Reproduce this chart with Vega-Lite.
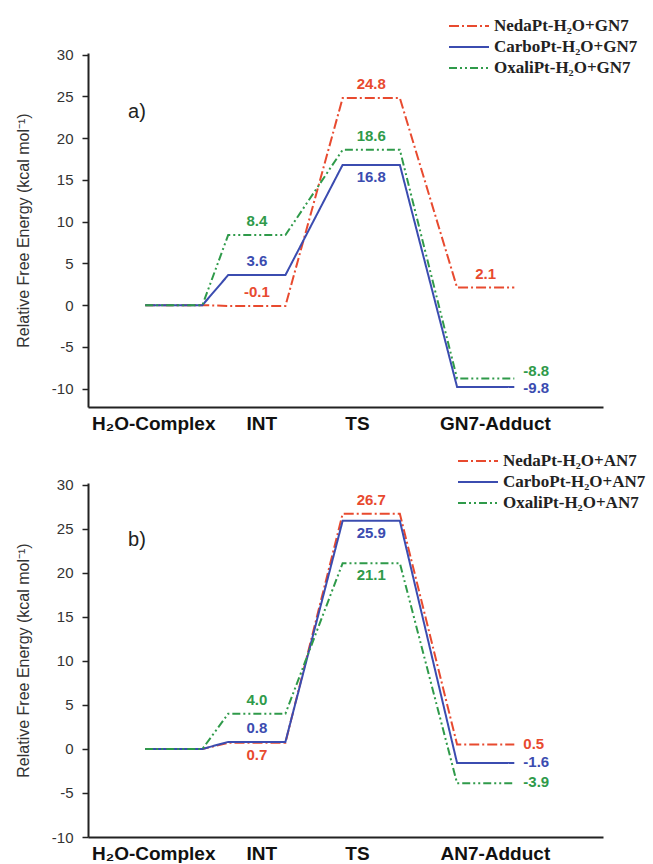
{
  "$schema": "https://vega.github.io/schema/vega-lite/v6.json",
  "background": "white",
  "padding": {"left": 15, "top": 15, "right": 0, "bottom": 0},
  "spacing": 17,
  "config": {
    "view": {"stroke": null},
    "font": "Liberation Sans",
    "axis": {"grid": false, "domainColor": "#222", "domainWidth": 2, "tickColor": "#222", "tickWidth": 1.5, "labelColor": "#333", "titleColor": "#333"},
    "legend": {"orient": "none", "title": null, "symbolType": "M-2,0L2,0", "symbolSize": 400, "symbolStrokeWidth": 2, "labelFont": "Liberation Serif", "labelFontWeight": "bold", "labelFontSize": 17, "labelColor": "#222", "labelOffset": 14, "rowPadding": 2, "padding": 0, "labelLimit": 300}
  },
  "resolve": {"scale": {"color": "independent", "strokeDash": "independent", "fill": "independent"}},
  "datasets": {
    "lines": [
      {"panel": "a", "series": "NedaPt-H₂O+GN7", "x": 1, "y": 0},
      {"panel": "a", "series": "NedaPt-H₂O+GN7", "x": 2, "y": 0},
      {"panel": "a", "series": "NedaPt-H₂O+GN7", "x": 2.45, "y": -0.1},
      {"panel": "a", "series": "NedaPt-H₂O+GN7", "x": 3.45, "y": -0.1},
      {"panel": "a", "series": "NedaPt-H₂O+GN7", "x": 4.45, "y": 24.8},
      {"panel": "a", "series": "NedaPt-H₂O+GN7", "x": 5.45, "y": 24.8},
      {"panel": "a", "series": "NedaPt-H₂O+GN7", "x": 6.45, "y": 2.1},
      {"panel": "a", "series": "NedaPt-H₂O+GN7", "x": 7.45, "y": 2.1},
      {"panel": "a", "series": "CarboPt-H₂O+GN7", "x": 1, "y": 0},
      {"panel": "a", "series": "CarboPt-H₂O+GN7", "x": 2, "y": 0},
      {"panel": "a", "series": "CarboPt-H₂O+GN7", "x": 2.45, "y": 3.6},
      {"panel": "a", "series": "CarboPt-H₂O+GN7", "x": 3.45, "y": 3.6},
      {"panel": "a", "series": "CarboPt-H₂O+GN7", "x": 4.45, "y": 16.8},
      {"panel": "a", "series": "CarboPt-H₂O+GN7", "x": 5.45, "y": 16.8},
      {"panel": "a", "series": "CarboPt-H₂O+GN7", "x": 6.45, "y": -9.8},
      {"panel": "a", "series": "CarboPt-H₂O+GN7", "x": 7.45, "y": -9.8},
      {"panel": "a", "series": "OxaliPt-H₂O+GN7", "x": 1, "y": 0},
      {"panel": "a", "series": "OxaliPt-H₂O+GN7", "x": 2, "y": 0},
      {"panel": "a", "series": "OxaliPt-H₂O+GN7", "x": 2.45, "y": 8.4},
      {"panel": "a", "series": "OxaliPt-H₂O+GN7", "x": 3.45, "y": 8.4},
      {"panel": "a", "series": "OxaliPt-H₂O+GN7", "x": 4.45, "y": 18.6},
      {"panel": "a", "series": "OxaliPt-H₂O+GN7", "x": 5.45, "y": 18.6},
      {"panel": "a", "series": "OxaliPt-H₂O+GN7", "x": 6.45, "y": -8.8},
      {"panel": "a", "series": "OxaliPt-H₂O+GN7", "x": 7.45, "y": -8.8},
      {"panel": "b", "series": "NedaPt-H₂O+AN7", "x": 1, "y": 0},
      {"panel": "b", "series": "NedaPt-H₂O+AN7", "x": 2, "y": 0},
      {"panel": "b", "series": "NedaPt-H₂O+AN7", "x": 2.45, "y": 0.7},
      {"panel": "b", "series": "NedaPt-H₂O+AN7", "x": 3.45, "y": 0.7},
      {"panel": "b", "series": "NedaPt-H₂O+AN7", "x": 4.45, "y": 26.7},
      {"panel": "b", "series": "NedaPt-H₂O+AN7", "x": 5.45, "y": 26.7},
      {"panel": "b", "series": "NedaPt-H₂O+AN7", "x": 6.45, "y": 0.5},
      {"panel": "b", "series": "NedaPt-H₂O+AN7", "x": 7.45, "y": 0.5},
      {"panel": "b", "series": "CarboPt-H₂O+AN7", "x": 1, "y": 0},
      {"panel": "b", "series": "CarboPt-H₂O+AN7", "x": 2, "y": 0},
      {"panel": "b", "series": "CarboPt-H₂O+AN7", "x": 2.45, "y": 0.8},
      {"panel": "b", "series": "CarboPt-H₂O+AN7", "x": 3.45, "y": 0.8},
      {"panel": "b", "series": "CarboPt-H₂O+AN7", "x": 4.45, "y": 25.9},
      {"panel": "b", "series": "CarboPt-H₂O+AN7", "x": 5.45, "y": 25.9},
      {"panel": "b", "series": "CarboPt-H₂O+AN7", "x": 6.45, "y": -1.6},
      {"panel": "b", "series": "CarboPt-H₂O+AN7", "x": 7.45, "y": -1.6},
      {"panel": "b", "series": "OxaliPt-H₂O+AN7", "x": 1, "y": 0},
      {"panel": "b", "series": "OxaliPt-H₂O+AN7", "x": 2, "y": 0},
      {"panel": "b", "series": "OxaliPt-H₂O+AN7", "x": 2.45, "y": 4.0},
      {"panel": "b", "series": "OxaliPt-H₂O+AN7", "x": 3.45, "y": 4.0},
      {"panel": "b", "series": "OxaliPt-H₂O+AN7", "x": 4.45, "y": 21.1},
      {"panel": "b", "series": "OxaliPt-H₂O+AN7", "x": 5.45, "y": 21.1},
      {"panel": "b", "series": "OxaliPt-H₂O+AN7", "x": 6.45, "y": -3.9},
      {"panel": "b", "series": "OxaliPt-H₂O+AN7", "x": 7.45, "y": -3.9}
    ],
    "labels": [
      {"panel": "a", "series": "OxaliPt-H₂O+GN7", "x": 2.95, "y": 8.4, "text": "8.4", "pos": "above"},
      {"panel": "a", "series": "CarboPt-H₂O+GN7", "x": 2.95, "y": 3.6, "text": "3.6", "pos": "above"},
      {"panel": "a", "series": "NedaPt-H₂O+GN7", "x": 2.95, "y": -0.1, "text": "-0.1", "pos": "above"},
      {"panel": "a", "series": "NedaPt-H₂O+GN7", "x": 4.95, "y": 24.8, "text": "24.8", "pos": "above"},
      {"panel": "a", "series": "OxaliPt-H₂O+GN7", "x": 4.95, "y": 18.6, "text": "18.6", "pos": "above"},
      {"panel": "a", "series": "CarboPt-H₂O+GN7", "x": 4.95, "y": 16.8, "text": "16.8", "pos": "below"},
      {"panel": "a", "series": "NedaPt-H₂O+GN7", "x": 6.95, "y": 2.1, "text": "2.1", "pos": "above"},
      {"panel": "a", "series": "OxaliPt-H₂O+GN7", "x": 7.45, "y": -8.8, "text": "-8.8", "pos": "rightAbove"},
      {"panel": "a", "series": "CarboPt-H₂O+GN7", "x": 7.45, "y": -9.8, "text": "-9.8", "pos": "right"},
      {"panel": "b", "series": "OxaliPt-H₂O+AN7", "x": 2.95, "y": 4.0, "text": "4.0", "pos": "above"},
      {"panel": "b", "series": "CarboPt-H₂O+AN7", "x": 2.95, "y": 0.8, "text": "0.8", "pos": "above"},
      {"panel": "b", "series": "NedaPt-H₂O+AN7", "x": 2.95, "y": 0.7, "text": "0.7", "pos": "below"},
      {"panel": "b", "series": "NedaPt-H₂O+AN7", "x": 4.95, "y": 26.7, "text": "26.7", "pos": "above"},
      {"panel": "b", "series": "CarboPt-H₂O+AN7", "x": 4.95, "y": 25.9, "text": "25.9", "pos": "below"},
      {"panel": "b", "series": "OxaliPt-H₂O+AN7", "x": 4.95, "y": 21.1, "text": "21.1", "pos": "below"},
      {"panel": "b", "series": "NedaPt-H₂O+AN7", "x": 7.45, "y": 0.5, "text": "0.5", "pos": "right"},
      {"panel": "b", "series": "CarboPt-H₂O+AN7", "x": 7.45, "y": -1.6, "text": "-1.6", "pos": "right"},
      {"panel": "b", "series": "OxaliPt-H₂O+AN7", "x": 7.45, "y": -3.9, "text": "-3.9", "pos": "right"}
    ],
    "tags": [
      {"panel": "a", "x": 0.7, "y": 23.1, "text": "a)"},
      {"panel": "b", "x": 0.7, "y": 23.7, "text": "b)"}
    ]
  },
  "vconcat": [
    {
      "width": 515,
      "height": 354,
      "layer": [
        {
          "data": {"name": "lines"},
          "transform": [{"filter": "datum.panel === 'a'"}],
          "mark": {"type": "line", "strokeWidth": 2},
          "encoding": {
            "x": {"field": "x", "type": "quantitative", "scale": {"domain": [0, 9], "nice": false, "zero": false},
              "axis": {"title": null, "values": [1.14, 3.03, 4.7, 7.11], "ticks": false, "labelExpr": "datum.value < 2 ? 'H₂O-Complex' : datum.value < 4 ? 'INT' : datum.value < 6 ? 'TS' : 'GN7-Adduct'", "labelFontWeight": "bold", "labelFontSize": 19, "labelColor": "#111", "labelPadding": 7, "labelFlush": false, "labelOverlap": false}},
            "y": {"field": "y", "type": "quantitative", "scale": {"domain": [-12.2, 30.2], "nice": false, "zero": false},
              "axis": {"title": "Relative Free Energy (kcal mol⁻¹)", "titleFontSize": 16, "titleFontWeight": "normal", "titlePadding": 20,
                "values": [-10, -7.5, -5, -2.5, 0, 2.5, 5, 7.5, 10, 12.5, 15, 17.5, 20, 22.5, 25, 27.5, 30],
                "labelExpr": "datum.value % 5 === 0 ? toString(datum.value) : ''",
                "tickSize": {"condition": {"test": "datum.value % 5 === 0", "value": 6}, "value": 3},
                "labelFontSize": 15, "labelPadding": 9}},
            "color": {"field": "series", "type": "nominal", "scale": {"domain": ["NedaPt-H₂O+GN7", "CarboPt-H₂O+GN7", "OxaliPt-H₂O+GN7"], "range": ["#e84a2f", "#3b4cb0", "#2f9a4a"]},
              "legend": {"legendX": 370, "legendY": -38}},
            "strokeDash": {"field": "series", "type": "nominal", "scale": {"domain": ["NedaPt-H₂O+GN7", "CarboPt-H₂O+GN7", "OxaliPt-H₂O+GN7"], "range": [[10, 3, 2, 3], [1, 0], [8, 3, 2, 3, 2, 3]]},
              "legend": {"legendX": 370, "legendY": -38}}
          }
        },
        {
          "data": {"name": "labels"},
          "transform": [{"filter": "datum.panel === 'a' && datum.pos === 'above'"}],
          "mark": {"type": "text", "fontWeight": "bold", "fontSize": 15, "dy": -14, "align": "center", "baseline": "middle"},
          "encoding": {
            "x": {"field": "x", "type": "quantitative"},
            "y": {"field": "y", "type": "quantitative"},
            "text": {"field": "text"},
            "fill": {"field": "series", "type": "nominal", "scale": {"domain": ["NedaPt-H₂O+GN7", "CarboPt-H₂O+GN7", "OxaliPt-H₂O+GN7"], "range": ["#e84a2f", "#3b4cb0", "#2f9a4a"]}, "legend": null}
          }
        },
        {
          "data": {"name": "labels"},
          "transform": [{"filter": "datum.panel === 'a' && datum.pos === 'below'"}],
          "mark": {"type": "text", "fontWeight": "bold", "fontSize": 15, "dy": 12, "align": "center", "baseline": "middle"},
          "encoding": {
            "x": {"field": "x", "type": "quantitative"},
            "y": {"field": "y", "type": "quantitative"},
            "text": {"field": "text"},
            "fill": {"field": "series", "type": "nominal", "legend": null}
          }
        },
        {
          "data": {"name": "labels"},
          "transform": [{"filter": "datum.panel === 'a' && datum.pos === 'right'"}],
          "mark": {"type": "text", "fontWeight": "bold", "fontSize": 15, "dx": 9, "dy": 1, "align": "left", "baseline": "middle"},
          "encoding": {
            "x": {"field": "x", "type": "quantitative"},
            "y": {"field": "y", "type": "quantitative"},
            "text": {"field": "text"},
            "fill": {"field": "series", "type": "nominal", "legend": null}
          }
        },
        {
          "data": {"name": "labels"},
          "transform": [{"filter": "datum.panel === 'a' && datum.pos === 'rightAbove'"}],
          "mark": {"type": "text", "fontWeight": "bold", "fontSize": 15, "dx": 9, "dy": -8, "align": "left", "baseline": "middle"},
          "encoding": {
            "x": {"field": "x", "type": "quantitative"},
            "y": {"field": "y", "type": "quantitative"},
            "text": {"field": "text"},
            "fill": {"field": "series", "type": "nominal", "legend": null}
          }
        },
        {
          "data": {"name": "tags"},
          "transform": [{"filter": "datum.panel === 'a'"}],
          "mark": {"type": "text", "fontSize": 20, "align": "left", "baseline": "middle", "color": "#222"},
          "encoding": {
            "x": {"field": "x", "type": "quantitative"},
            "y": {"field": "y", "type": "quantitative"},
            "text": {"field": "text"}
          }
        }
      ]
    },
    {
      "width": 515,
      "height": 354,
      "layer": [
        {
          "data": {"name": "lines"},
          "transform": [{"filter": "datum.panel === 'b'"}],
          "mark": {"type": "line", "strokeWidth": 2},
          "encoding": {
            "x": {"field": "x", "type": "quantitative", "scale": {"domain": [0, 9], "nice": false, "zero": false},
              "axis": {"title": null, "values": [1.14, 3.03, 4.7, 7.11], "ticks": false, "labelExpr": "datum.value < 2 ? 'H₂O-Complex' : datum.value < 4 ? 'INT' : datum.value < 6 ? 'TS' : 'AN7-Adduct'", "labelFontWeight": "bold", "labelFontSize": 19, "labelColor": "#111", "labelPadding": 7, "labelFlush": false, "labelOverlap": false}},
            "y": {"field": "y", "type": "quantitative", "scale": {"domain": [-10, 30.2], "nice": false, "zero": false},
              "axis": {"title": "Relative Free Energy (kcal mol⁻¹)", "titleFontSize": 16, "titleFontWeight": "normal", "titlePadding": 20,
                "values": [-10, -7.5, -5, -2.5, 0, 2.5, 5, 7.5, 10, 12.5, 15, 17.5, 20, 22.5, 25, 27.5, 30],
                "labelExpr": "datum.value % 5 === 0 ? toString(datum.value) : ''",
                "tickSize": {"condition": {"test": "datum.value % 5 === 0", "value": 6}, "value": 3},
                "labelFontSize": 15, "labelPadding": 9}},
            "color": {"field": "series", "type": "nominal", "scale": {"domain": ["NedaPt-H₂O+AN7", "CarboPt-H₂O+AN7", "OxaliPt-H₂O+AN7"], "range": ["#e84a2f", "#3b4cb0", "#2f9a4a"]},
              "legend": {"legendX": 379, "legendY": -33}},
            "strokeDash": {"field": "series", "type": "nominal", "scale": {"domain": ["NedaPt-H₂O+AN7", "CarboPt-H₂O+AN7", "OxaliPt-H₂O+AN7"], "range": [[10, 3, 2, 3], [1, 0], [8, 3, 2, 3, 2, 3]]},
              "legend": {"legendX": 379, "legendY": -33}}
          }
        },
        {
          "data": {"name": "labels"},
          "transform": [{"filter": "datum.panel === 'b' && datum.pos === 'above'"}],
          "mark": {"type": "text", "fontWeight": "bold", "fontSize": 15, "dy": -14, "align": "center", "baseline": "middle"},
          "encoding": {
            "x": {"field": "x", "type": "quantitative"},
            "y": {"field": "y", "type": "quantitative"},
            "text": {"field": "text"},
            "fill": {"field": "series", "type": "nominal", "scale": {"domain": ["NedaPt-H₂O+AN7", "CarboPt-H₂O+AN7", "OxaliPt-H₂O+AN7"], "range": ["#e84a2f", "#3b4cb0", "#2f9a4a"]}, "legend": null}
          }
        },
        {
          "data": {"name": "labels"},
          "transform": [{"filter": "datum.panel === 'b' && datum.pos === 'below'"}],
          "mark": {"type": "text", "fontWeight": "bold", "fontSize": 15, "dy": 12, "align": "center", "baseline": "middle"},
          "encoding": {
            "x": {"field": "x", "type": "quantitative"},
            "y": {"field": "y", "type": "quantitative"},
            "text": {"field": "text"},
            "fill": {"field": "series", "type": "nominal", "legend": null}
          }
        },
        {
          "data": {"name": "labels"},
          "transform": [{"filter": "datum.panel === 'b' && datum.pos === 'right'"}],
          "mark": {"type": "text", "fontWeight": "bold", "fontSize": 15, "dx": 9, "dy": -1, "align": "left", "baseline": "middle"},
          "encoding": {
            "x": {"field": "x", "type": "quantitative"},
            "y": {"field": "y", "type": "quantitative"},
            "text": {"field": "text"},
            "fill": {"field": "series", "type": "nominal", "legend": null}
          }
        },
        {
          "data": {"name": "tags"},
          "transform": [{"filter": "datum.panel === 'b'"}],
          "mark": {"type": "text", "fontSize": 20, "align": "left", "baseline": "middle", "color": "#222"},
          "encoding": {
            "x": {"field": "x", "type": "quantitative"},
            "y": {"field": "y", "type": "quantitative"},
            "text": {"field": "text"}
          }
        }
      ]
    }
  ]
}
